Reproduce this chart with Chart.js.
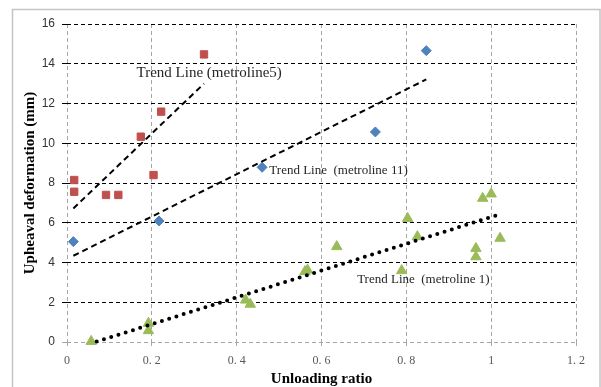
<!DOCTYPE html>
<html>
<head>
<meta charset="utf-8">
<script src="https://cdn.jsdelivr.net/npm/chart.js@4.4.1/dist/chart.umd.min.js"></script>
<style>
  html, body { margin: 0; padding: 0; background: #fff; }
  #wrap { width: 601px; height: 387px; }
</style>
</head>
<body>
<div id="wrap"><canvas id="chart" width="601" height="387"></canvas></div>
<script>
// data
var line5X = [0.017, 0.017, 0.092, 0.121, 0.174, 0.204, 0.222, 0.323];
var line5Y = [8.15, 7.56, 7.40, 7.40, 10.33, 8.40, 11.59, 14.47];

var line11X = [0.015, 0.217, 0.460, 0.727, 0.847];
var line11Y = [5.05, 6.09, 8.79, 10.57, 14.66];

var line1X = [0.057, 0.192, 0.192, 0.421, 0.432, 0.561, 0.567, 0.636, 0.789, 0.803, 0.826, 0.964, 0.964, 0.980, 1.000, 1.021];
var line1Y = [0.03, 0.94, 0.57, 2.11, 1.90, 3.54, 3.62, 4.80, 3.59, 6.22, 5.30, 4.71, 4.29, 7.23, 7.45, 5.22];

// trend line end points
var trend5X = [0.015, 0.323];
var trend5Y = [6.72, 13.0];
var trend11X = [0.015, 0.847];
var trend11Y = [4.34, 13.21];
var trend1X = [0.07, 1.019];
var trend1Y = [0.02, 6.42];

var xTickLabels = ["0", "0. 2", "0. 4", "0. 6", "0. 8", "1", "1. 2"];
var yTickLabels = ["0", "2", "4", "6", "8", "10", "12", "14", "16"];

var trendNames = ["Trend Line (metroline5)", "Trend Line  (metroline 11)", "Trend Line  (metroline 1)"];
var trendNameX = [0.164, 0.477, 0.684];
var trendNameY = [13.55, 8.65, 3.12];
var trendNameSize = [15, 13, 13];

function pts(xs, ys) {
  var out = [];
  for (var i = 0; i < xs.length; i++) out.push({x: xs[i], y: ys[i]});
  return out;
}

var frame = {
  id: 'frame',
  beforeDraw: function(chart) {
    var c = chart.ctx;
    c.save();
    c.fillStyle = '#fff';
    c.fillRect(0, 0, chart.width, chart.height);
    c.strokeStyle = '#c4c4c4';
    c.lineWidth = 1.5;
    c.strokeRect(12.5, 9.5, 587.5, 400);
    c.restore();
  }
};

var trendText = {
  id: 'trendText',
  afterDatasetsDraw: function(chart) {
    var c = chart.ctx;
    var xs = chart.scales.x, ys = chart.scales.y;
    c.save();
    c.fillStyle = '#262626';
    c.textBaseline = 'middle';
    c.textAlign = 'left';
    for (var i = 0; i < trendNames.length; i++) {
      c.font = trendNameSize[i] + 'px "Liberation Serif", serif';
      c.fillText(trendNames[i], xs.getPixelForValue(trendNameX[i]), ys.getPixelForValue(trendNameY[i]));
    }
    c.restore();
  }
};

var ctx = document.getElementById("chart").getContext('2d');
var config = {
  type: 'scatter',
  data: {
    datasets: [{
      label: 'metroline5',
      data: pts(line5X, line5Y),
      pointStyle: 'rect',
      pointRadius: 5.2,
      backgroundColor: '#C0504D',
      borderColor: '#C0504D',
      clip: false,
      order: 3
    }, {
      label: 'metroline 11',
      data: pts(line11X, line11Y),
      pointStyle: 'rectRot',
      pointRadius: 5,
      backgroundColor: '#4F81BD',
      borderColor: '#4F81BD',
      clip: false,
      order: 3
    }, {
      label: 'metroline 1',
      data: pts(line1X, line1Y),
      pointStyle: 'triangle',
      pointRadius: 6,
      backgroundColor: '#9BBB59',
      borderColor: '#9BBB59',
      clip: false,
      order: 3
    }, {
      label: 'trend 5',
      data: pts(trend5X, trend5Y),
      showLine: true,
      pointRadius: 0,
      borderColor: '#000',
      borderWidth: 2,
      borderDash: [6, 4],
      order: 1
    }, {
      label: 'trend 11',
      data: pts(trend11X, trend11Y),
      showLine: true,
      pointRadius: 0,
      borderColor: '#000',
      borderWidth: 2,
      borderDash: [6, 4],
      order: 1
    }, {
      label: 'trend 1',
      data: pts(trend1X, trend1Y),
      showLine: true,
      pointRadius: 0,
      borderColor: '#000',
      borderWidth: 4,
      borderCapStyle: 'round',
      borderDash: [0, 7.6],
      clip: false,
      order: 1
    }]
  },
  options: {
    responsive: false,
    animation: false,
    layout: { padding: { top: 24, right: 25, left: 0, bottom: 0 } },
    plugins: {
      legend: { display: false },
      tooltip: { enabled: false }
    },
    scales: {
      x: {
        type: 'linear',
        min: 0, max: 1.2,
        afterFit: function(s) { s.height = 45; },
        ticks: {
          stepSize: 0.2,
          padding: 8,
          color: '#595959',
          font: { family: '"Liberation Serif", serif', size: 12 },
          callback: function(v) { return xTickLabels[Math.round(v / 0.2)]; }
        },
        grid: { color: '#a6a6a6', lineWidth: 1, tickLength: 4 },
        border: { display: false, dash: [4, 3] },
        title: {
          display: true,
          text: 'Unloading ratio',
          color: '#000',
          font: { family: '"Liberation Serif", serif', size: 15, weight: 'bold', lineHeight: 1 },
          padding: 0
        }
      },
      y: {
        type: 'linear',
        min: 0, max: 16,
        afterFit: function(s) { s.width = 67; },
        ticks: {
          stepSize: 2,
          padding: 7,
          color: '#333333',
          font: { family: '"Liberation Sans", sans-serif', size: 12 },
          callback: function(v) { return yTickLabels[Math.round(v / 2)]; }
        },
        grid: {
          color: function(c) { return c.tick && c.tick.value === 0 ? '#a6a6a6' : '#000'; },
          lineWidth: 1,
          tickLength: 5
        },
        border: { display: false, dash: [4, 3] },
        title: {
          display: true,
          text: 'Upheaval deformation (mm)',
          color: '#000',
          font: { family: '"Liberation Serif", serif', size: 15, weight: 'bold', lineHeight: 1 },
          padding: { top: 23, bottom: 0 }
        }
      }
    }
  },
  plugins: [frame, trendText]
};
var chart = new Chart(ctx, config);
</script>
</body>
</html>
